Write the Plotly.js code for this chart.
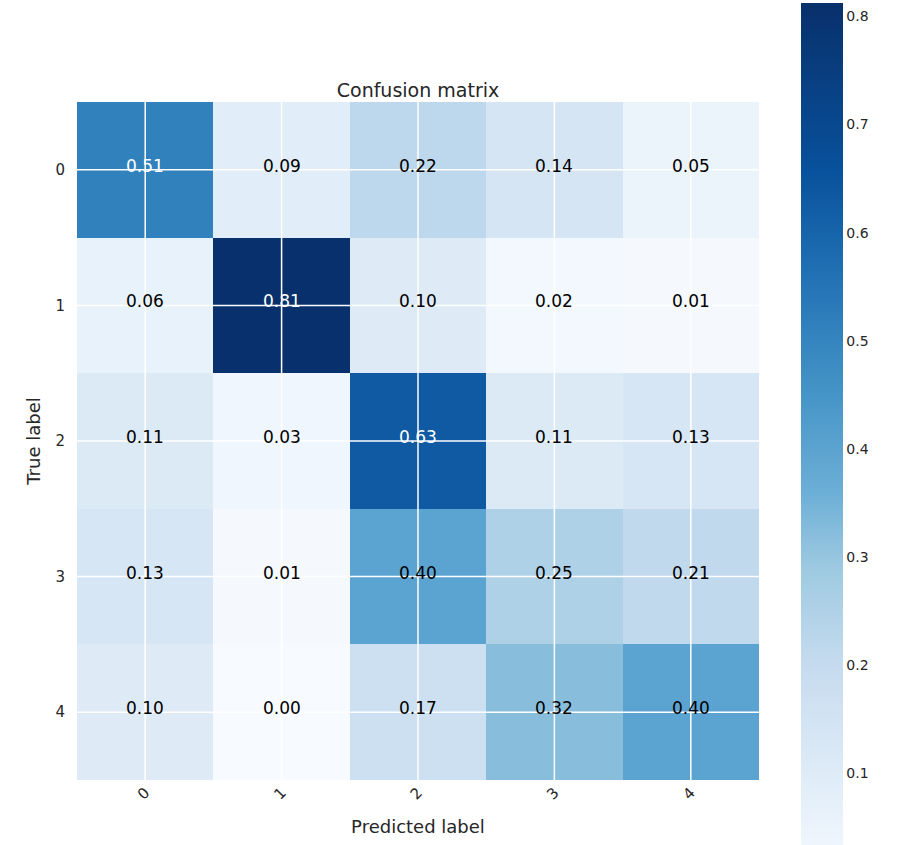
<!DOCTYPE html>
<html>
<head>
<meta charset="utf-8">
<script src="https://cdn.plot.ly/plotly-3.0.1.min.js"></script>
<style>html,body{margin:0;padding:0;background:#fff;}</style>
</head>
<body>
<div id="chart" style="width:900px;height:845px;"></div>
<script>
const classes = ['0', '1', '2', '3', '4'];
const row0 = [0.51, 0.09, 0.22, 0.14, 0.05];
const row1 = [0.06, 0.81, 0.10, 0.02, 0.01];
const row2 = [0.11, 0.03, 0.63, 0.11, 0.13];
const row3 = [0.13, 0.01, 0.40, 0.25, 0.21];
const row4 = [0.10, 0.00, 0.17, 0.32, 0.40];
const matrix = [row0, row1, row2, row3, row4];
const colorbarTicks = [0.1, 0.2, 0.3, 0.4, 0.5, 0.6, 0.7, 0.8];

const blues = [
  [0.0, '#f7fbff'], [0.125, '#deebf7'], [0.245, '#c6dbef'], [0.355, '#9ecae1'],
  [0.445, '#6baed6'], [0.565, '#4292c6'], [0.69, '#2171b5'], [0.81, '#08519c'], [1.0, '#08306b']
];

const idx = classes.map((c, i) => i);
const zmax = 0.812, zmin = 0.0;
const thresh = Math.max(...matrix.flat()) / 2;

const annotations = [];
matrix.forEach((row, i) => row.forEach((v, j) => {
  annotations.push({
    x: j, y: i, xref: 'x', yref: 'y', text: v.toFixed(2), showarrow: false,
    yshift: 4,
    font: {family: 'DejaVu Sans', size: 17, color: v > thresh ? '#ffffff' : '#000000'}
  });
}));

const shapes = [];
idx.forEach(k => {
  shapes.push({type: 'line', xref: 'x', yref: 'paper', x0: k, x1: k, y0: 0, y1: 1,
    line: {color: '#ffffff', width: 1.5}, layer: 'above'});
  shapes.push({type: 'line', xref: 'paper', yref: 'y', x0: 0, x1: 1, y0: k, y1: k,
    line: {color: '#ffffff', width: 1.5}, layer: 'above'});
});

const trace = {
  type: 'heatmap', z: matrix, x: idx, y: idx,
  colorscale: blues, zmin: zmin, zmax: zmax, hoverinfo: 'skip',
  colorbar: {
    x: 1.0616, xanchor: 'left', xpad: 0,
    thickness: 42, thicknessmode: 'pixels',
    len: 878, lenmode: 'pixels',
    y: 0.4978, yanchor: 'middle', ypad: 0,
    tickvals: colorbarTicks, tickformat: '.1f',
    ticks: '', ticklabelpad: 6,
    outlinewidth: 0,
    tickfont: {family: 'DejaVu Sans', size: 14, color: '#262626'}
  }
};

const layout = {
  width: 900, height: 845,
  margin: {l: 77, r: 141, t: 102, b: 62},
  paper_bgcolor: '#ffffff', plot_bgcolor: '#ffffff',
  title: {text: 'Confusion matrix', x: 0.5, xref: 'paper', xanchor: 'center',
    y: 1, yref: 'paper', yanchor: 'bottom', pad: {b: 5},
    font: {family: 'DejaVu Sans', size: 19, color: '#262626'}},
  xaxis: {
    tickvals: idx, ticktext: classes, tickangle: -45, showgrid: false, zeroline: false,
    ticks: '', ticklabelstandoff: 0, range: [-0.5, 4.5],
    tickfont: {family: 'DejaVu Sans', size: 15, color: '#262626'},
    title: {text: 'Predicted label', standoff: 18, font: {family: 'DejaVu Sans', size: 18, color: '#262626'}}
  },
  yaxis: {
    tickvals: idx, ticktext: classes, showgrid: false, zeroline: false,
    ticks: '', ticklabelstandoff: 11, range: [4.5, -0.5],
    tickfont: {family: 'DejaVu Sans', size: 15, color: '#262626'},
    title: {text: 'True label', standoff: 10, font: {family: 'DejaVu Sans', size: 18, color: '#262626'}}
  },
  shapes: shapes,
  annotations: annotations
};

Plotly.newPlot('chart', [trace], layout, {displayModeBar: false, staticPlot: true});
</script>
</body>
</html>
